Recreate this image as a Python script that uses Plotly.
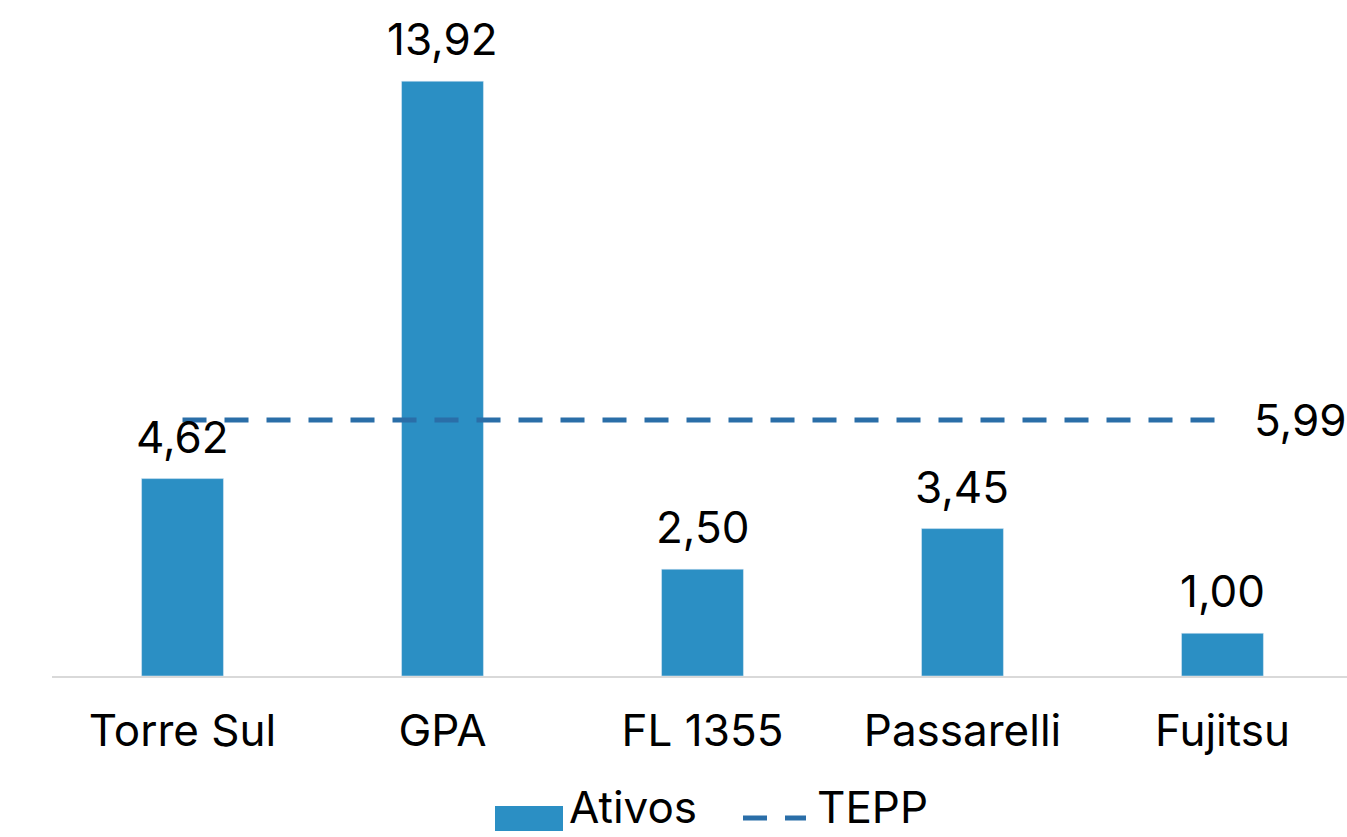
import plotly.graph_objects as go

categories = ["Torre Sul", "GPA", "FL 1355", "Passarelli", "Fujitsu"]
ativos = [4.62, 13.92, 2.50, 3.45, 1.00]
tepp = [5.99, 5.99, 5.99, 5.99, 5.99]

BAR = "#2b8fc4"
LINE = "#2a6ea8"
FONT = "Inter"
FS = 44

W, H = 1347, 837
L, R, T, B = 52, 0, 0, 161
pw, ph = W - L - R, H - T - B

def px(x):
    return (x - L) / pw

def py(y):
    return (H - B - y) / ph

fig = go.Figure()
fig.add_trace(go.Bar(x=categories, y=ativos, marker_color=BAR, name="Ativos",
                     showlegend=False))
fig.add_trace(go.Scatter(x=categories, y=tepp, mode="lines", name="TEPP",
                         line=dict(color=LINE, width=5, dash="24px,18px"),
                         showlegend=False))

annotations = []
for c, v in zip(categories, ativos):
    annotations.append(dict(x=c, y=v, text=f"{v:.2f}".replace(".", ","),
                            showarrow=False, yanchor="bottom", yshift=13,
                            font=dict(size=FS, color="black", family=FONT)))
annotations.append(dict(x=categories[-1], y=tepp[-1],
                        text=f"{tepp[-1]:.2f}".replace(".", ","),
                        showarrow=False, xanchor="left", xshift=30,
                        font=dict(size=FS, color="black", family=FONT)))
# legend
annotations.append(dict(xref="paper", yref="paper", x=px(567), y=py(836),
                        text="Ativos", showarrow=False, xanchor="left",
                        yanchor="bottom",
                        font=dict(size=FS, color="black", family=FONT)))
annotations.append(dict(xref="paper", yref="paper", x=px(815), y=py(836),
                        text="TEPP", showarrow=False, xanchor="left",
                        yanchor="bottom",
                        font=dict(size=FS, color="black", family=FONT)))

shapes = [
    dict(type="rect", xref="paper", yref="paper", x0=px(495), x1=px(563),
         y0=py(831), y1=py(806), fillcolor=BAR, line=dict(width=0)),
    dict(type="line", xref="paper", yref="paper", x0=px(743), x1=px(806),
         y0=py(818), y1=py(818),
         line=dict(color=LINE, width=5, dash="24px,18px")),
]

fig.update_layout(
    width=W, height=H,
    margin=dict(l=L, r=R, t=T, b=B),
    plot_bgcolor="white", paper_bgcolor="white",
    bargap=0.685,
    showlegend=False,
    font=dict(family=FONT, size=FS, color="black"),
    annotations=annotations,
    shapes=shapes,
    xaxis=dict(showline=True, linecolor="#d9d9d9", linewidth=2,
               range=[-0.502, 4.479],
               showgrid=False, zeroline=False, ticks="",
               tickfont=dict(size=FS, color="black", family=FONT),
               ticklabelstandoff=15),
    yaxis=dict(range=[0, 15.82], visible=False, showgrid=False,
               zeroline=False),
)

fig.write_html("out.html")
